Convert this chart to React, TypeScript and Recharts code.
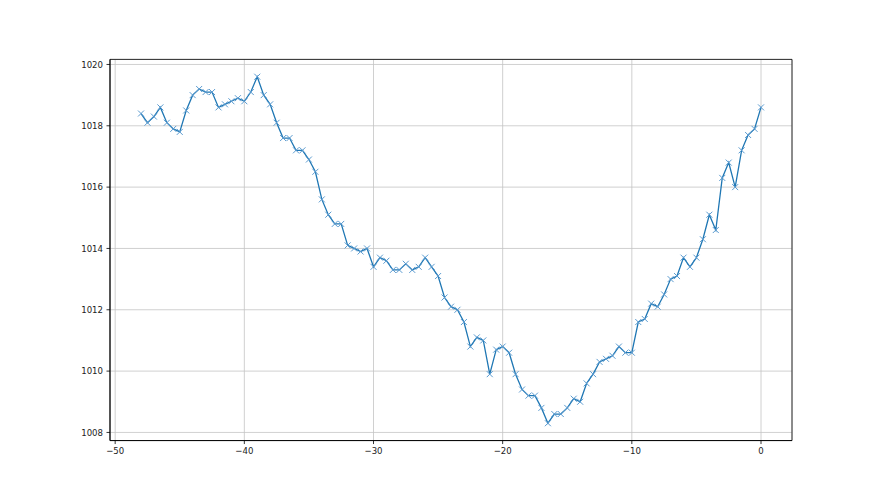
import { CartesianGrid, Line, LineChart, ReferenceArea, XAxis, YAxis } from 'recharts';

const hours = [
  -48, -47.5, -47, -46.5, -46, -45.5, -45, -44.5, -44, -43.5, -43, -42.5, -42, -41.5, -41, -40.5,
  -40, -39.5, -39, -38.5, -38, -37.5, -37, -36.5, -36, -35.5, -35, -34.5, -34, -33.5, -33, -32.5,
  -32, -31.5, -31, -30.5, -30, -29.5, -29, -28.5, -28, -27.5, -27, -26.5, -26, -25.5, -25, -24.5,
  -24, -23.5, -23, -22.5, -22, -21.5, -21, -20.5, -20, -19.5, -19, -18.5, -18, -17.5, -17, -16.5,
  -16, -15.5, -15, -14.5, -14, -13.5, -13, -12.5, -12, -11.5, -11, -10.5, -10, -9.5, -9, -8.5,
  -8, -7.5, -7, -6.5, -6, -5.5, -5, -4.5, -4, -3.5, -3, -2.5, -2, -1.5, -1, -0.5, 0,
];

const pressure = [
  1018.4, 1018.1, 1018.3, 1018.6, 1018.1, 1017.9, 1017.8, 1018.5, 1019.0, 1019.2, 1019.1, 1019.1,
  1018.6, 1018.7, 1018.8, 1018.9, 1018.8, 1019.1, 1019.6, 1019.0, 1018.7, 1018.1, 1017.6, 1017.6,
  1017.2, 1017.2, 1016.9, 1016.5, 1015.6, 1015.1, 1014.8, 1014.8, 1014.1, 1014.0, 1013.9, 1014.0,
  1013.4, 1013.7, 1013.6, 1013.3, 1013.3, 1013.5, 1013.3, 1013.4, 1013.7, 1013.4, 1013.1, 1012.4,
  1012.1, 1012.0, 1011.6, 1010.8, 1011.1, 1011.0, 1009.9, 1010.7, 1010.8, 1010.6, 1009.9, 1009.4,
  1009.2, 1009.2, 1008.8, 1008.3, 1008.6, 1008.6, 1008.8, 1009.1, 1009.0, 1009.6, 1009.9, 1010.3,
  1010.4, 1010.5, 1010.8, 1010.6, 1010.6, 1011.6, 1011.7, 1012.2, 1012.1, 1012.5, 1013.0, 1013.1,
  1013.7, 1013.4, 1013.7, 1014.3, 1015.1, 1014.6, 1016.3, 1016.8, 1016.0, 1017.2, 1017.7, 1017.9,
  1018.6,
];

const xTicks = [-50, -40, -30, -20, -10, 0];
const yTicks = [1008, 1010, 1012, 1014, 1016, 1018, 1020];

const xDomain: [number, number] = [-50.4, 2.4];
const yDomain: [number, number] = [1007.735, 1020.165];

const data = hours.map((h, i) => ({ h, p: pressure[i] }));

const fmt = (v: number) => String(v).replace('-', '\u2212');

const tickStyle = { fontSize: 9.5, fill: '#222', fontFamily: '"DejaVu Sans Condensed", "DejaVu Sans"' };

function Cross(props: any) {
  const { cx, cy, index } = props;
  if (cx == null || cy == null) return <g key={index} />;
  const r = 3;
  return (
    <path
      key={index}
      d={`M${cx - r},${cy - r}L${cx + r},${cy + r}M${cx - r},${cy + r}L${cx + r},${cy - r}`}
      stroke="#5b9bd0"
      strokeWidth={1}
      fill="none"
    />
  );
}

export default function App() {
  return (
    <div style={{ position: 'absolute', left: 0, top: 0, width: 880, height: 495, background: '#fff' }}>
      <LineChart
        width={880}
        height={495}
        data={data}
        margin={{ top: 59.4, right: 88, bottom: 0, left: 0 }}
      >
        <CartesianGrid stroke="#c4c4c4" strokeWidth={0.8} />
        <XAxis
          dataKey="h"
          type="number"
          domain={xDomain}
          ticks={xTicks}
          allowDataOverflow
          height={54.45}
          tickSize={3.5}
          tickMargin={3.5}
          tickFormatter={fmt}
          tick={tickStyle}
          axisLine={{ stroke: '#000', strokeWidth: 0.8 }}
          tickLine={{ stroke: '#000', strokeWidth: 0.8 }}
        />
        <YAxis
          type="number"
          domain={yDomain}
          ticks={yTicks}
          allowDataOverflow
          width={110}
          tickSize={3.5}
          tickMargin={3.5}
          tick={tickStyle}
          axisLine={{ stroke: '#000', strokeWidth: 0.8 }}
          tickLine={{ stroke: '#000', strokeWidth: 0.8 }}
        />
        <ReferenceArea
          x1={xDomain[0]}
          x2={xDomain[1]}
          y1={yDomain[0]}
          y2={yDomain[1]}
          fill="none"
          fillOpacity={0}
          stroke="#000"
          strokeWidth={0.8}
        />
        <Line
          dataKey="p"
          stroke="#1f77b4"
          strokeWidth={1.3}
          dot={Cross}
          activeDot={false}
          isAnimationActive={false}
        />
      </LineChart>
    </div>
  );
}
